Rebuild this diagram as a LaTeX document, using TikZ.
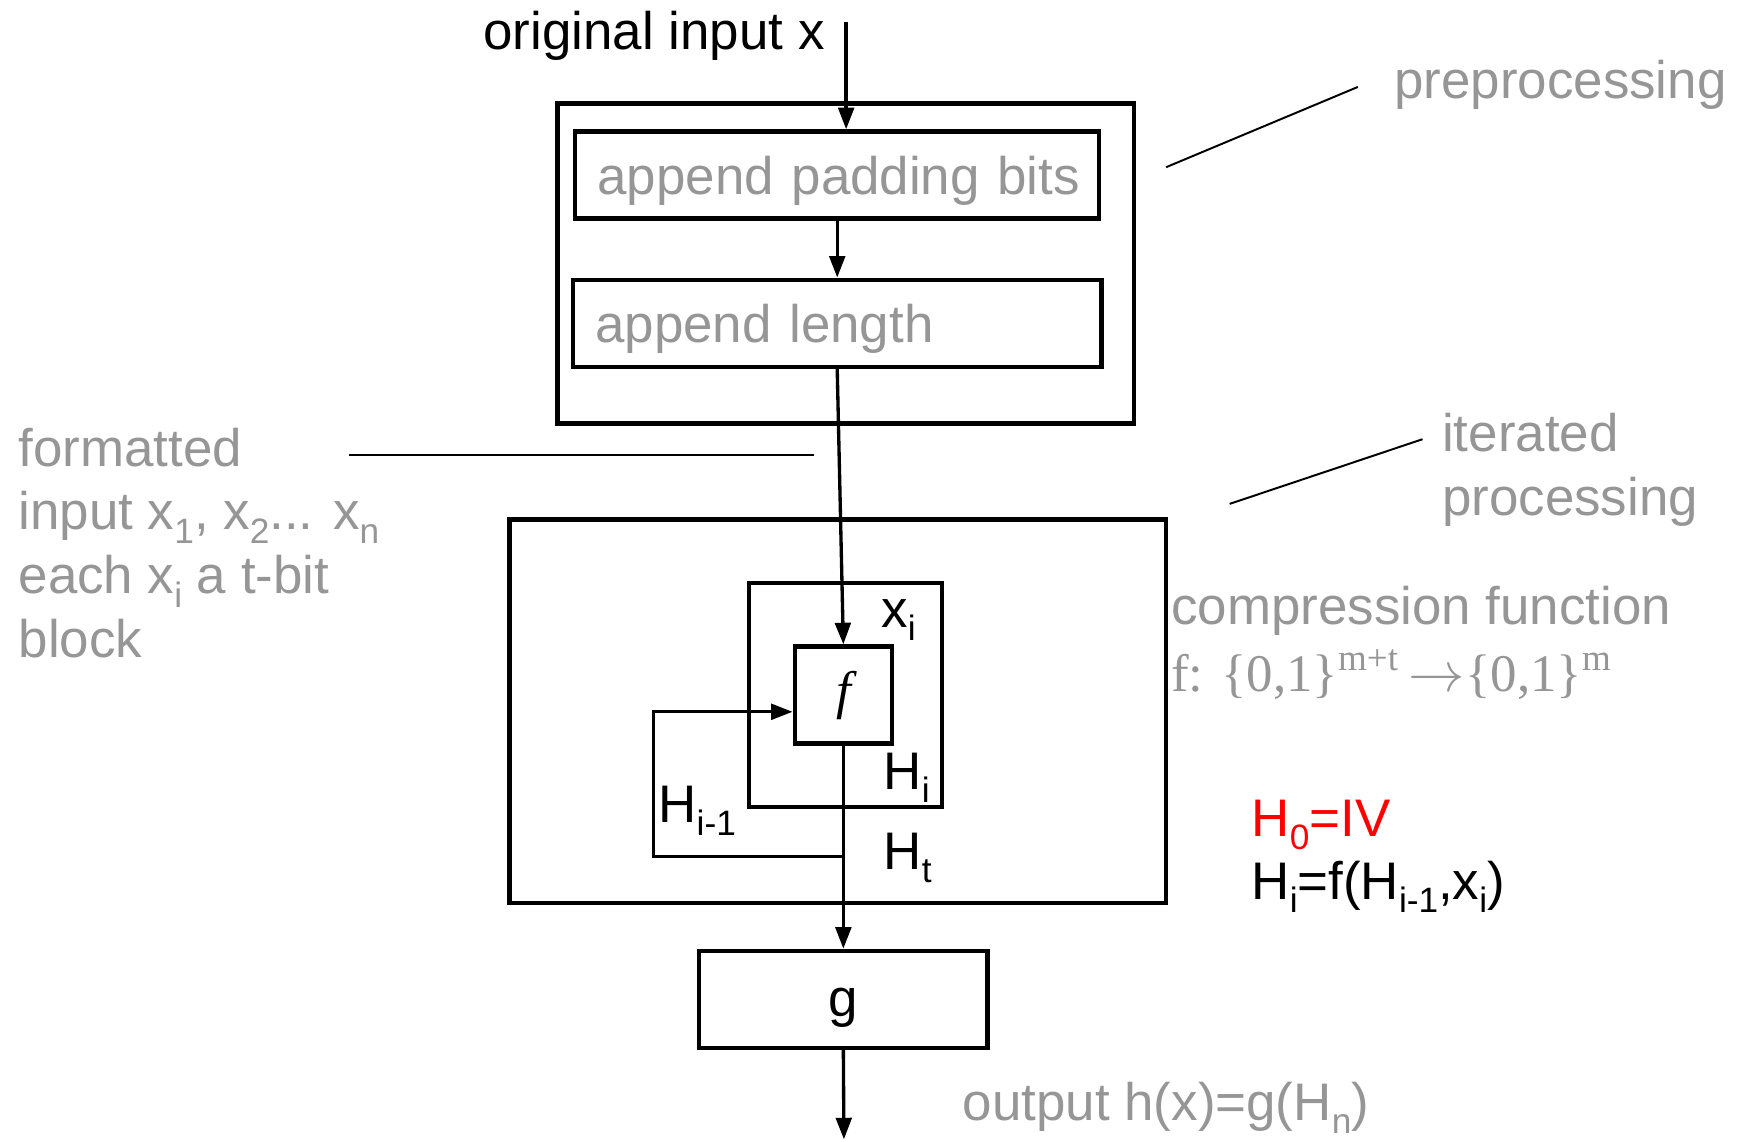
\documentclass[tikz,border=0pt]{standalone}
\usepackage{fontspec}
\setmainfont{Liberation Sans}
\newfontfamily\timesfont{Liberation Serif}
\usepackage{tikz}
\usetikzlibrary{arrows.meta}
\usepackage{xcolor}
\definecolor{labelgray}{RGB}{150,150,150}
\newcommand{\lowidx}[1]{\raisebox{-0.25em}{\fontsize{9pt}{9pt}\selectfont #1}}

\begin{document}
\begin{tikzpicture}[
    font=\fontsize{13.5pt}{16.3pt}\selectfont,
    box/.style={rectangle, draw, line width=1.15pt, inner sep=0pt},
    textbox/.style={box, minimum height=0.78cm, inner xsep=0.2cm, align=left,
        text height=1.2em, text depth=0.21em, text=labelgray},
    arrow/.style={-{Triangle[length=5.5pt,width=4pt]}, line width=0.85pt},
    leader/.style={line width=0.5pt},
    note/.style={anchor=base west, inner sep=0pt},
    gray note/.style={note, text=labelgray}
]
    \useasboundingbox (0,0) rectangle (15.68,10.24);

    % Preprocessing stage
    \node[box, minimum width=5.17cm, minimum height=2.87cm] (pre) at (7.585,7.875) {};
    \node[textbox, text width=4.30cm] (padbits) at (7.51,8.67) {\mbox{append padding bits}};
    \node[textbox, text width=4.34cm] (applen) at (7.51,7.34) {append length};

    % Iterated processing stage
    \node[box, minimum width=5.89cm, minimum height=3.44cm] (iter) at (7.515,3.86) {};
    \node[box, minimum width=1.73cm, minimum height=2.01cm] (inner) at (7.585,4.005) {};
    \node[box, minimum size=0.87cm] (fbox) at (7.565,4.005) {\timesfont\itshape f};
    \node[box, minimum width=2.59cm, minimum height=0.87cm, text height=1.1em, text depth=0.21em] (gbox) at (7.565,1.275) {g};

    % Labels on the flow
    \node[note] (inlabel) at (4.33,9.80) {original input x};
    \node[note] (xi) at (7.90,4.61) {x\lowidx{i}};
    \node[note] (hi) at (7.92,3.16) {H\lowidx{i}};
    \node[note] (hprev) at (5.90,2.86) {H\lowidx{i-1}};
    \node[note] (ht) at (7.92,2.44) {H\lowidx{t}};

    % Arrows
    \coordinate (xin) at (7.59,10.04);
    \coordinate (split) at (fbox.south |- 0,2.56);
    \coordinate (loop) at (5.86,2.56);
    \coordinate (out) at (7.57,0.02);
    \draw[arrow] (xin) -- (xin |- padbits.north);
    \draw[arrow] (padbits) -- (applen);
    \draw[arrow] (applen.south) -- (fbox.north);
    \draw[arrow] (fbox.south) -- (gbox.north);
    \draw[arrow] (split) -- (loop) |- ([yshift=-0.15cm]fbox.west);
    \draw[arrow] (gbox.south) -- (out);

    % Side annotations
    \node[gray note] (prelabel) at (12.50,9.36) {preprocessing};
    \node[gray note, anchor=north west, align=left] (fmtlabel) at (0.16,6.41)
        {formatted\\input x\lowidx{1}, x\lowidx{2}... x\lowidx{n}\\each x\lowidx{i} a t-bit\\block};
    \node[gray note, anchor=north west, align=left] (iterlabel) at (12.93,6.54) {iterated\\processing};
    \node[gray note] (cflabel) at (10.50,4.64) {compression function};
    \node[gray note] (cfmap) at (10.50,4.04)
        {\timesfont f: \{0,1\}\textsuperscript{m+t}\,$\rightarrow$\{0,1\}\textsuperscript{m}};
    \node[note, text=red] (hzero) at (11.22,2.74) {H\lowidx{0}=IV};
    \node[note] (hrec) at (11.22,2.17) {H\lowidx{i}=f(H\lowidx{i-1},x\lowidx{i})};
    \node[gray note] (outlabel) at (8.63,0.19) {output h(x)=g(H\lowidx{n})};

    % Leader lines
    \coordinate (preA) at (10.46,8.74);
    \coordinate (preB) at (12.18,9.46);
    \coordinate (fmtA) at (3.13,6.16);
    \coordinate (fmtB) at (7.30,6.16);
    \coordinate (iterA) at (11.03,5.72);
    \coordinate (iterB) at (12.76,6.30);
    \draw[leader] (preA) -- (preB);
    \draw[leader] (fmtA) -- (fmtB);
    \draw[leader] (iterA) -- (iterB);
\end{tikzpicture}
\end{document}
